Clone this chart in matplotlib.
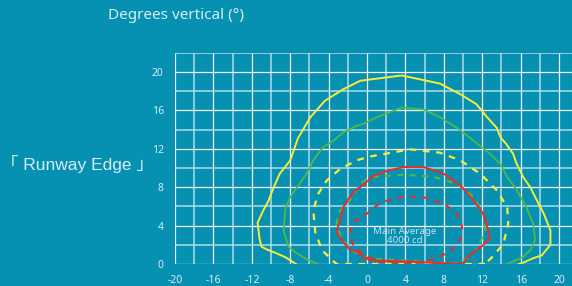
import matplotlib.pyplot as plt

plt.rcParams['axes.unicode_minus'] = False

# contour traces (degrees horizontal, degrees vertical)
yel_x = [-7.4, -8.5, -9.4, -10.3, -11.0, -11.2, -11.3, -11.4, -10.8, -10.3, -9.8, -9.1, -8.0, -7.2, -5.9,
         -4.4, -2.5, -0.7, 3.6, 7.6, 9.7, 11.4, 12.5, 13.5, 13.9, 14.5, 15.2, 15.6, 16.3, 17.0, 17.7, 18.4,
         19.1, 19.1, 18.2, 17.3, 16.3, 15.8]
yel_y = [0.0, 0.7, 1.1, 1.45, 1.8, 2.65, 3.5, 4.3, 5.6, 6.5, 7.8, 9.4, 10.8, 13.1, 15.3,
         17.0, 18.2, 19.1, 19.65, 18.8, 17.7, 16.65, 15.3, 14.2, 13.2, 12.5, 11.5, 10.4, 9.0, 8.0, 6.6, 5.25,
         3.5, 2.0, 0.9, 0.6, 0.15, 0.0]

grn_x = [-5.1, -6.3, -7.3, -8.2, -8.7, -8.5, -8.0, -7.0, -6.3, -5.6, -4.55, -3.5, -2.5, -1.1, -0.4, 1.0,
         3.6, 5.9, 7.6, 9.35, 11.1, 12.8, 13.9, 14.6, 15.6, 16.6, 17.3, 17.5, 17.0, 16.3, 15.2, 14.6]
grn_y = [0.0, 0.5, 1.1, 1.8, 3.5, 5.8, 7.0, 8.4, 9.4, 10.8, 12.2, 12.85, 13.7, 14.4, 14.6, 15.3,
         16.3, 16.1, 15.3, 14.2, 12.85, 11.5, 10.4, 9.05, 7.7, 5.9, 4.2, 2.5, 1.45, 0.75, 0.25, 0.0]

yel_d_x = [12.3, -3.2, -4.7, -5.4, -5.6, -5.1, -4.2, -2.8, -1.1, 0.3, 4.5, 7.6, 9.7, 11.8, 13.5, 14.6,
           14.7, 14.2, 13.2, 12.3]
yel_d_y = [0.0, 0.0, 1.45, 3.35, 5.6, 7.3, 8.7, 9.9, 10.8, 11.2, 11.95, 11.6, 10.8, 9.4, 7.7, 5.9,
           4.2, 2.1, 0.9, 0.0]

grn_d_x = [9.35, 0.0, -1.4, -2.6, -3.2, -2.8, -1.8, -0.7, 0.3, 3.8, 6.9, 9.35, 11.1, 12.1, 12.3, 11.6,
           10.4, 9.35]
grn_d_y = [0.0, 0.6, 1.3, 2.5, 4.2, 5.6, 6.6, 8.4, 9.05, 9.3, 9.1, 8.35, 7.0, 5.25, 3.5, 1.8,
           0.6, 0.0]

red_x = [9.9, 0.3, -0.4, -1.1, -1.8, -2.5, -3.2, -2.8, -2.5, -1.8, -1.1, -0.7, 0.7, 2.05, 3.8, 5.9, 8.0,
         9.7, 11.1, 12.1, 12.45, 12.8, 11.9, 11.1, 10.4, 9.9]
red_y = [0.0, 0.4, 0.75, 1.3, 1.5, 2.3, 3.35, 4.55, 5.9, 7.0, 7.8, 8.0, 9.2, 9.7, 10.1, 10.1, 9.4,
         8.2, 6.6, 5.25, 4.2, 2.65, 1.8, 1.3, 0.6, 0.0]

red_d_x = [4.5, 1.35, 0.0, -1.4, -1.8, -1.4, 0.0, 1.0, 2.05, 4.1, 6.2, 8.0, 9.35, 9.9, 9.7, 8.65, 7.25,
           5.9, 4.5]
red_d_y = [0.0, 0.25, 0.75, 1.8, 3.2, 4.4, 5.25, 6.1, 6.6, 7.05, 6.9, 6.3, 5.25, 3.9, 2.5, 1.3, 0.6,
           0.25, 0.0]

x_ticks = [-20, -16, -12, -8, -4, 0, 4, 8, 12, 16, 20]
y_ticks = [0, 4, 8, 12, 16, 20]

bg = '#0690b1'
txt = '#d6eef4'
yellow = '#f7ee3a'
green = '#52b848'
red = '#ee2a2a'

fig = plt.figure(figsize=(5.72, 2.86), dpi=100, facecolor=bg)
ax = fig.add_axes([0.306, 0.077, 0.705, 0.738])
ax.set_facecolor(bg)
ax.set_xlim(-20, 22)
ax.set_ylim(0, 22)

# grid: white lines on multiples of 4, paler ones in between
for v in range(-20, 23, 2):
    if v % 4 == 0:
        ax.axvline(v, color='white', lw=0.9, alpha=0.95, zorder=1)
    else:
        ax.axvline(v, color='#b6e0ec', lw=1.4, alpha=0.75, zorder=1)
for v in range(0, 23, 2):
    if v % 4 == 0:
        ax.axhline(v, color='white', lw=0.9, alpha=0.95, zorder=1)
    else:
        ax.axhline(v, color='#b6e0ec', lw=1.4, alpha=0.75, zorder=1)

ax.plot(yel_x, yel_y, color=yellow, lw=1.4, zorder=3)
ax.plot(grn_x, grn_y, color=green, lw=1.3, zorder=3)
ax.plot(yel_d_x, yel_d_y, color=yellow, lw=1.6, ls=(0, (3, 3)), zorder=3)
ax.plot(grn_d_x, grn_d_y, color=green, lw=1.5, ls=(0, (3, 3)), zorder=3)
ax.plot(red_x, red_y, color=red, lw=1.4, zorder=4)
ax.plot(red_d_x, red_d_y, color=red, lw=1.5, ls=(0, (3, 3)), zorder=4)

ax.text(3.9, 2.9, 'Main Average\n4000 cd', color='#e0f1f6', alpha=0.85, fontsize=7,
        ha='center', va='center', linespacing=0.95, family='Noto Sans', zorder=5)

for s in ax.spines.values():
    s.set_visible(False)
ax.set_xticks(x_ticks)
ax.set_yticks(y_ticks)
ax.tick_params(length=0, colors=txt, labelsize=7.5, pad=8)
for lab in ax.get_xticklabels() + ax.get_yticklabels():
    lab.set_family('Noto Sans')

fig.text(0.189, 0.945, 'Degrees vertical (°)', color=txt, fontsize=11, family='Noto Sans',
         ha='left', va='center')
fig.text(0.002, 0.425, '「 Runway Edge 」', color=txt, fontsize=12.5,
         family=['Liberation Sans', 'Noto Sans CJK JP'], ha='left', va='center')

fig.savefig('out.png', dpi=100, facecolor=bg)
